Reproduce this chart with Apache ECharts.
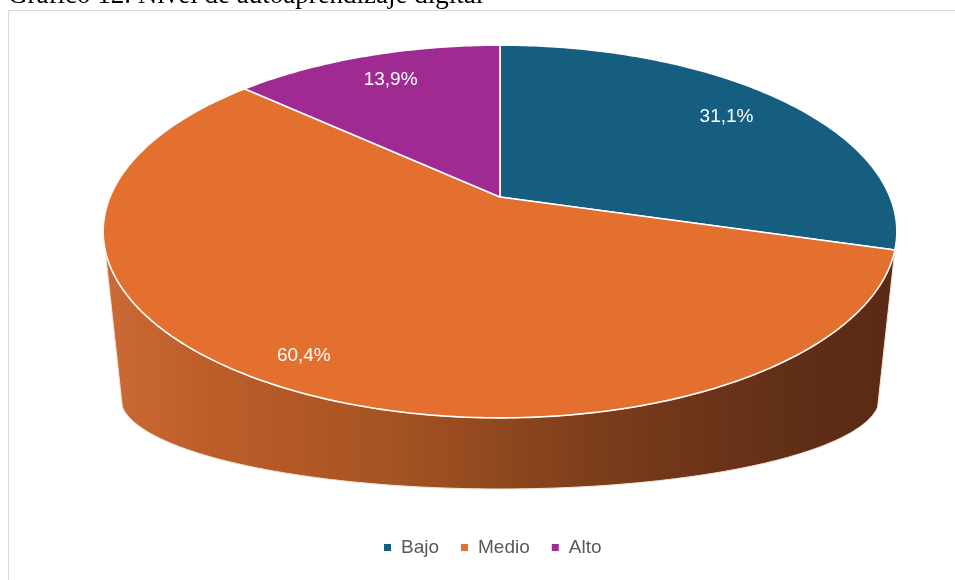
<!DOCTYPE html>
<html>
<head>
<meta charset="utf-8">
<script src="https://cdn.jsdelivr.net/npm/echarts@6/dist/echarts.min.js"></script>
<style>
html,body{margin:0;padding:0;background:#fff;}
#chart{width:955px;height:580px;}
</style>
</head>
<body>
<div id="chart"></div>
<script>
// ---- data ----
const categories = ['Bajo', 'Medio', 'Alto'];
const values = [31.1, 60.4, 13.9];
const valueLabels = ['31,1%', '60,4%', '13,9%'];
const titleText = 'Gráfico 12. Nivel de autoaprendizaje digital';

// ---- style ----
const colors = ['#155E80', '#E3702F', '#9E2A92'];
const labelRadius = [0.79, 0.88, 0.79];
const geo = { cx: 500, cy: 197, s: 390, sc: 180, p: 0.185, bcy: 381, bs: 373, bsc: 88, zVis: 0.28 };

const total = values.reduce((a, b) => a + b, 0);
function startAngle(i) {
  let acc = 0;
  for (let k = 0; k < i; k++) acc += values[k];
  return acc / total * Math.PI * 2;
}
function proj(theta, r, bottom) {
  const X = r * Math.sin(theta), Z = -r * Math.cos(theta);
  const d = 1 - geo.p * Z;
  if (bottom) return [geo.cx + geo.bs * X / d, geo.bcy + geo.bsc * Z / d];
  return [geo.cx + geo.s * X / d, geo.cy + geo.sc * Z / d];
}
function arcPts(a0, a1, r, bottom) {
  const pts = [];
  const n = Math.max(2, Math.ceil(Math.abs(a1 - a0) / (Math.PI / 240)));
  for (let k = 0; k <= n; k++) pts.push(proj(a0 + (a1 - a0) * k / n, r, bottom));
  return pts;
}
const visA = Math.acos(-geo.zVis), visB = Math.PI * 2 - visA;

const wallGradient = new echarts.graphic.LinearGradient(105, 0, 895, 0, [
  { offset: 0, color: '#CB6A34' },
  { offset: 0.12, color: '#BE5E2A' },
  { offset: 0.37, color: '#A45322' },
  { offset: 0.62, color: '#7C3D1B' },
  { offset: 0.85, color: '#622F17' },
  { offset: 1, color: '#5A2A14' }
], true);

function makeRender(i) {
  return function (params, api) {
    const v = api.value(0);
    const a0 = startAngle(i);
    const a1 = a0 + v / total * Math.PI * 2;
    const children = [];
    const w0 = Math.max(a0, visA), w1 = Math.min(a1, visB);
    if (w1 > w0) {
      const top = arcPts(w0, w1, 1, false);
      const bot = arcPts(w1, w0, 1, true);
      children.push({
        type: 'polygon',
        shape: { points: top.concat(bot) },
        style: { fill: wallGradient, stroke: '#F3E3D3', lineWidth: 1, lineJoin: 'round' }
      });
    }
    const face = [[geo.cx, geo.cy]].concat(arcPts(a0, a1, 1, false));
    children.push({
      type: 'polygon',
      shape: { points: face },
      style: { fill: colors[i], stroke: '#FFFFFF', lineWidth: 1.6, lineJoin: 'round' }
    });
    const mid = (a0 + a1) / 2;
    const lp = proj(mid, labelRadius[i], false);
    children.push({
      type: 'text',
      style: {
        text: valueLabels[i], x: lp[0], y: lp[1] - 2, fill: '#FFFFFF',
        fontSize: 19, fontFamily: 'Liberation Sans, Arial, sans-serif',
        align: 'center', verticalAlign: 'middle'
      }
    });
    return { type: 'group', children: children };
  };
}

const chart = echarts.init(document.getElementById('chart'), null, { renderer: 'canvas' });
chart.setOption({
  animation: false,
  backgroundColor: '#FFFFFF',
  graphic: [
    {
      type: 'rect', z: -10,
      shape: { x: 8.5, y: 10.5, width: 1000, height: 600 },
      style: { fill: '#FFFFFF', stroke: '#D9D9D9', lineWidth: 1 }
    },
    {
      type: 'text', z: 10,
      style: {
        text: titleText, x: 8, y: -4, fill: '#000000',
        fontSize: 27, fontFamily: 'Liberation Serif, Times New Roman, serif',
        align: 'left', verticalAlign: 'middle'
      }
    }
  ],
  legend: {
    data: categories,
    left: 379, top: 533,
    icon: 'rect', itemWidth: 7, itemHeight: 7, itemGap: 22,
    selectedMode: false,
    textStyle: { color: '#595959', fontSize: 19, fontFamily: 'Liberation Sans, Arial, sans-serif', padding: [0, 0, 0, 5] }
  },
  series: categories.map((name, i) => ({
    type: 'custom',
    name: name,
    coordinateSystem: 'none',
    silent: true,
    itemStyle: { color: colors[i] },
    data: [[values[i]]],
    renderItem: makeRender(i)
  }))
});
</script>
</body>
</html>
